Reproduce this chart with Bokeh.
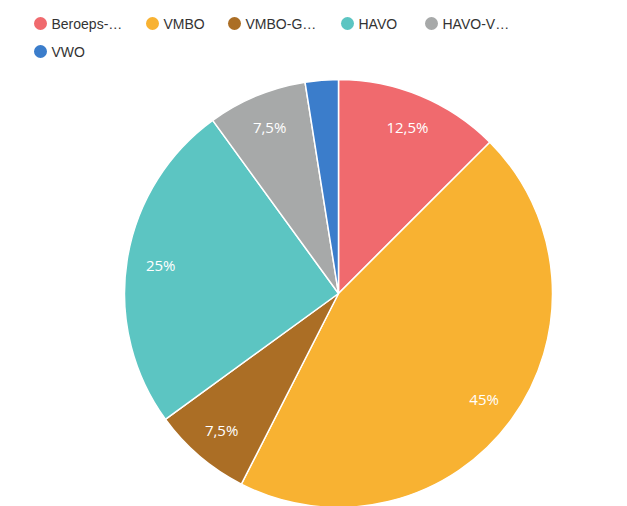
import math
from bokeh.plotting import figure
from bokeh.models import Range1d, ColumnDataSource
from bokeh.core.properties import value
from bokeh.embed import file_html
from bokeh.resources import INLINE

# ---- data ----
categories = ["Beroeps-…", "VMBO", "VMBO-G…", "HAVO", "HAVO-V…", "VWO"]
shares = [12.5, 45.0, 7.5, 25.0, 7.5, 2.5]
colors = ["#F06A6E", "#F8B232", "#AB6E25", "#5CC5C2", "#A7A9A9", "#3B7DCB"]

W, H = 627, 506

def fx(page_x):
    return page_x

def fy(page_y):
    return H - page_y

p = figure(width=W, height=H, output_backend="svg", toolbar_location=None,
           x_range=Range1d(0, W), y_range=Range1d(0, H),
           min_border=0, min_border_left=0, min_border_right=0,
           min_border_top=0, min_border_bottom=0)
p.axis.visible = False
p.grid.visible = False
p.outline_line_color = None
p.background_fill_color = "white"
p.border_fill_color = "white"

cx, cy, R = fx(338), fy(293), 214.0
total = sum(shares)
starts, ends, mids = [], [], []
cum = 0.0
for s in shares:
    a0 = math.pi / 2 - 2 * math.pi * cum / total
    cum += s
    a1 = math.pi / 2 - 2 * math.pi * cum / total
    starts.append(a0)
    ends.append(a1)
    mids.append((a0 + a1) / 2)

src = ColumnDataSource(dict(start=starts, end=ends, color=colors))
p.wedge(x=cx, y=cy, radius=R, start_angle="start", end_angle="end",
        direction="clock", fill_color="color", line_color="white",
        line_width=1.5, source=src)

# slice labels
lr = 180.0
lx, ly, lt = [], [], []
for s, m in zip(shares, mids):
    if s < 5:
        continue
    lx.append(cx + lr * math.cos(m))
    ly.append(cy + lr * math.sin(m))
    txt = ("%g" % s).replace(".", ",") + "%"
    lt.append(txt)
p.text(x=lx, y=ly, text=lt, text_color="white", text_font=value("Open Sans"),
       text_font_size="15px", text_align="center", text_baseline="middle")

# legend (manual)
leg_px = [40, 152, 234, 347, 431, 40]
leg_py = [23, 23, 23, 23, 23, 51]
p.scatter(x=[fx(v) for v in leg_px], y=[fy(v) for v in leg_py], size=13,
          fill_color=colors, line_color=None)
p.text(x=[fx(v + 11) for v in leg_px], y=[fy(v) for v in leg_py], text=categories,
       text_color="#333333", text_font=value("Liberation Sans"),
       text_font_size="14px", text_align="left", text_baseline="middle")

open("out.html", "w").write(file_html(p, INLINE))
